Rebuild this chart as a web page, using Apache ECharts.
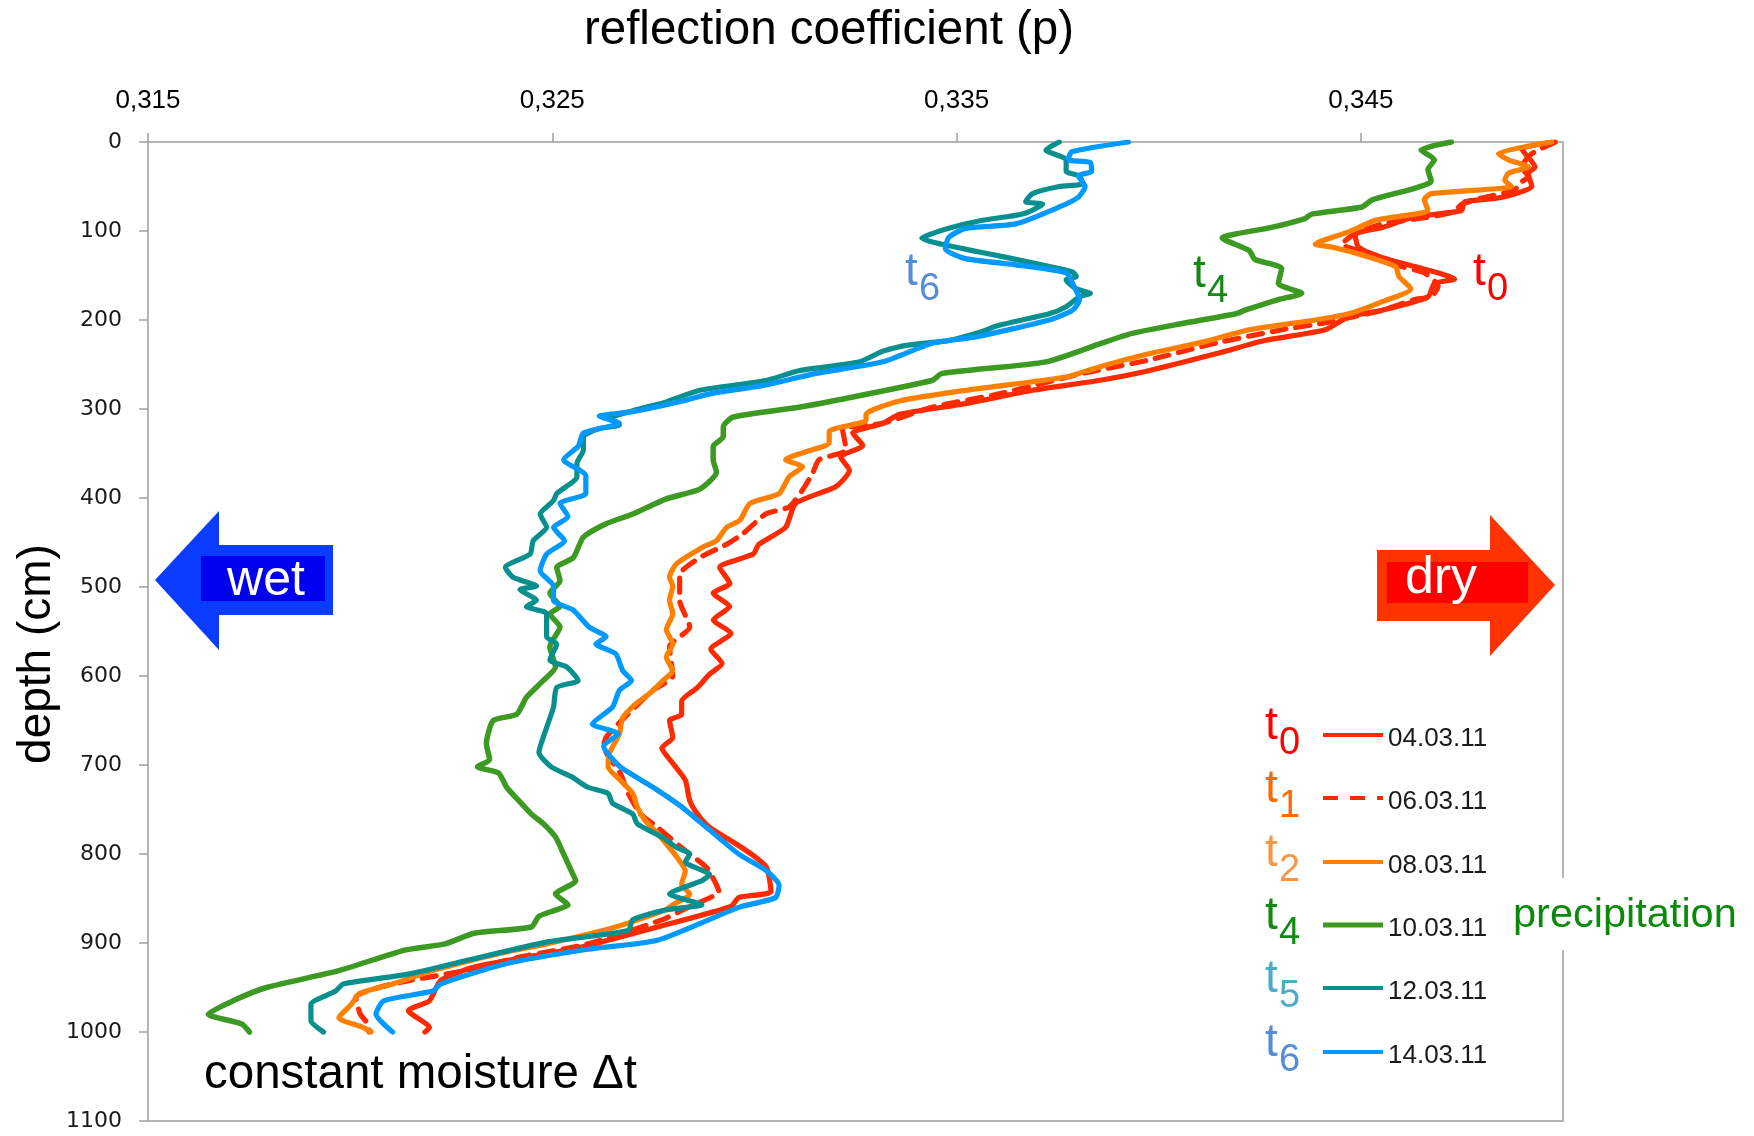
<!DOCTYPE html>
<html><head><meta charset="utf-8">
<script src="https://cdn.jsdelivr.net/npm/echarts@6/dist/echarts.min.js"></script>
<style>html,body{margin:0;padding:0;background:#fff}#c{width:1754px;height:1136px}</style>
</head><body><div id="c"></div><script>
// ---- data: [reflection coefficient, depth (cm)] ----
const xTicks = [0.315, 0.325, 0.335, 0.345];
const depthTicks = [0,100,200,300,400,500,600,700,800,900,1000,1100];
const dates = ['04.03.11','06.03.11','08.03.11','10.03.11','12.03.11','14.03.11'];
const tNames = ['0','1','2','4','5','6'];

const t0 = [[0.34975,0],[0.34898,8],[0.34931,28],[0.34914,35],[0.34923,50],[0.34840,63],[0.34757,67],[0.34749,77],[0.34635,84],[0.34553,96],[0.34486,104],[0.34494,118],[0.34553,130],[0.34633,140],[0.34732,154],[0.34682,159],[0.34666,174],[0.34553,189],[0.34470,196],[0.34412,211],[0.34262,223],[0.34141,238],[0.33975,257],[0.33851,268],[0.33688,279],[0.33522,294],[0.33359,306],[0.33318,316],[0.33243,327],[0.33268,341],[0.33213,354],[0.33235,369],[0.33202,387],[0.33102,406],[0.33077,433],[0.33011,452],[0.32997,463],[0.32914,478],[0.32939,496],[0.32898,507],[0.32939,522],[0.32898,537],[0.32942,552],[0.32892,570],[0.32920,586],[0.32889,598],[0.32859,613],[0.32820,628],[0.32820,643],[0.32790,650],[0.32798,669],[0.32771,681],[0.32798,698],[0.32829,717],[0.32840,740],[0.32859,755],[0.32889,770],[0.32942,785],[0.32992,800],[0.33030,815],[0.33041,842],[0.32961,849],[0.32942,859],[0.32760,882],[0.32577,904],[0.32486,912],[0.32307,927],[0.32224,942],[0.32196,965],[0.32144,976],[0.32196,995],[0.32185,1000]];

const t1 = [[0.34981,0],[0.34923,13],[0.34898,28],[0.34914,39],[0.34890,47],[0.34881,54],[0.34798,63],[0.34749,70],[0.34732,78],[0.34674,84],[0.34553,92],[0.34486,103],[0.34453,115],[0.34503,123],[0.34602,140],[0.34657,147],[0.34691,162],[0.34674,174],[0.34633,177],[0.34553,189],[0.34412,203],[0.34304,211],[0.34141,226],[0.33975,245],[0.33812,260],[0.33605,283],[0.33439,298],[0.33318,316],[0.33218,323],[0.33227,346],[0.33160,357],[0.33144,372],[0.33119,391],[0.33086,410],[0.33028,418],[0.32972,440],[0.32931,452],[0.32865,467],[0.32815,486],[0.32815,499],[0.32815,515],[0.32840,545],[0.32790,567],[0.32798,600],[0.32749,616],[0.32682,645],[0.32633,669],[0.32627,679],[0.32668,709],[0.32688,732],[0.32718,755],[0.32760,770],[0.32820,793],[0.32881,815],[0.32901,830],[0.32912,842],[0.32840,859],[0.32771,874],[0.32588,901],[0.32417,916],[0.32285,931],[0.32105,946],[0.32014,961],[0.32025,980],[0.32044,991],[0.32047,1000]];

const t2 = [[0.34972,0],[0.34840,13],[0.34865,20],[0.34914,28],[0.34865,35],[0.34856,43],[0.34873,50],[0.34674,58],[0.34657,65],[0.34666,77],[0.34633,81],[0.34536,88],[0.34470,101],[0.34387,115],[0.34428,118],[0.34511,128],[0.34586,140],[0.34594,151],[0.34624,165],[0.34544,181],[0.34470,193],[0.34387,200],[0.34224,211],[0.34116,224],[0.33975,238],[0.33851,253],[0.33771,264],[0.33522,279],[0.33359,291],[0.33276,306],[0.33276,313],[0.33185,325],[0.33185,338],[0.33127,348],[0.33077,357],[0.33119,365],[0.33086,376],[0.33061,395],[0.32989,406],[0.32964,425],[0.32931,433],[0.32906,448],[0.32873,455],[0.32807,474],[0.32790,489],[0.32798,499],[0.32790,515],[0.32798,530],[0.32782,548],[0.32798,564],[0.32782,579],[0.32798,594],[0.32774,605],[0.32740,620],[0.32707,631],[0.32674,647],[0.32666,665],[0.32641,687],[0.32638,702],[0.32668,717],[0.32699,732],[0.32710,747],[0.32729,762],[0.32760,777],[0.32790,793],[0.32809,804],[0.32829,819],[0.32820,834],[0.32840,845],[0.32798,857],[0.32779,863],[0.32657,882],[0.32486,901],[0.32367,912],[0.32204,931],[0.32105,946],[0.32022,957],[0.32003,969],[0.31972,984],[0.32033,995],[0.32052,1000]];

const t4 = [[0.34724,0],[0.34649,9],[0.34682,20],[0.34666,31],[0.34674,44],[0.34633,52],[0.34528,65],[0.34503,73],[0.34378,81],[0.34362,86],[0.34279,96],[0.34157,108],[0.34224,122],[0.34238,132],[0.34304,142],[0.34296,159],[0.34354,170],[0.34296,177],[0.34213,189],[0.34191,193],[0.34058,204],[0.33934,215],[0.33859,226],[0.33721,247],[0.33464,260],[0.33439,268],[0.33193,291],[0.33110,298],[0.32948,309],[0.32923,320],[0.32923,331],[0.32898,342],[0.32898,357],[0.32906,371],[0.32865,390],[0.32782,401],[0.32699,418],[0.32633,429],[0.32577,444],[0.32552,467],[0.32511,478],[0.32519,493],[0.32494,507],[0.32519,522],[0.32494,530],[0.32519,545],[0.32494,567],[0.32508,590],[0.32478,605],[0.32436,624],[0.32412,643],[0.32354,650],[0.32337,676],[0.32345,694],[0.32315,702],[0.32367,709],[0.32387,725],[0.32417,740],[0.32448,755],[0.32478,766],[0.32508,781],[0.32528,800],[0.32547,819],[0.32558,830],[0.32508,845],[0.32539,857],[0.32508,863],[0.32467,870],[0.32448,882],[0.32307,889],[0.32235,901],[0.32135,908],[0.31972,931],[0.31793,950],[0.31710,965],[0.31649,980],[0.31732,991],[0.31751,1000]];

const t5 = [[0.33754,0],[0.33721,9],[0.33771,20],[0.33771,33],[0.33804,38],[0.33812,47],[0.33754,50],[0.33688,58],[0.33671,67],[0.33713,70],[0.33663,81],[0.33564,88],[0.33481,97],[0.33414,108],[0.33464,115],[0.33539,122],[0.33605,128],[0.33787,146],[0.33796,151],[0.33771,155],[0.33796,165],[0.33831,170],[0.33804,174],[0.33771,185],[0.33729,193],[0.33605,206],[0.33555,214],[0.33481,223],[0.33384,228],[0.33318,235],[0.33260,247],[0.33110,257],[0.33028,268],[0.32865,279],[0.32782,292],[0.32699,302],[0.32641,311],[0.32666,318],[0.32616,322],[0.32577,331],[0.32577,346],[0.32561,361],[0.32561,376],[0.32511,395],[0.32503,403],[0.32470,418],[0.32486,433],[0.32453,448],[0.32445,463],[0.32384,478],[0.32403,489],[0.32461,499],[0.32420,503],[0.32461,515],[0.32436,522],[0.32486,530],[0.32486,556],[0.32511,564],[0.32494,582],[0.32536,590],[0.32564,605],[0.32511,613],[0.32503,635],[0.32486,658],[0.32467,686],[0.32497,702],[0.32547,713],[0.32588,725],[0.32638,732],[0.32649,743],[0.32699,755],[0.32710,766],[0.32771,781],[0.32809,793],[0.32840,800],[0.32829,809],[0.32889,823],[0.32870,830],[0.32790,845],[0.32870,857],[0.32779,863],[0.32699,874],[0.32688,886],[0.32486,899],[0.32285,920],[0.32144,935],[0.31983,946],[0.31964,954],[0.31903,969],[0.31903,987],[0.31934,1000]];

const t6 = [[0.33925,0],[0.33785,11],[0.33776,20],[0.33831,23],[0.33834,33],[0.33801,38],[0.33818,50],[0.33801,62],[0.33754,73],[0.33646,92],[0.33522,97],[0.33481,107],[0.33472,120],[0.33522,131],[0.33646,138],[0.33771,147],[0.33787,159],[0.33804,177],[0.33787,189],[0.33729,200],[0.33547,219],[0.33439,226],[0.33318,247],[0.33152,260],[0.33028,273],[0.32889,283],[0.32823,291],[0.32699,303],[0.32616,308],[0.32666,316],[0.32577,327],[0.32564,342],[0.32528,357],[0.32583,375],[0.32583,395],[0.32519,406],[0.32539,421],[0.32503,433],[0.32530,448],[0.32486,463],[0.32470,482],[0.32503,499],[0.32503,515],[0.32552,526],[0.32591,545],[0.32633,556],[0.32608,564],[0.32657,575],[0.32674,594],[0.32696,605],[0.32666,616],[0.32649,635],[0.32599,654],[0.32663,665],[0.32627,679],[0.32668,702],[0.32749,725],[0.32820,747],[0.32881,770],[0.32961,800],[0.33030,819],[0.33061,835],[0.33052,849],[0.32961,860],[0.32760,897],[0.32588,907],[0.32387,923],[0.32224,946],[0.32204,954],[0.32083,965],[0.32064,980],[0.32105,1000]];

// ---- styling ----
const FONT = '"Liberation Sans", Arial, Helvetica, sans-serif';
const lineColors = ['#ff2a00','#ff2a00','#ff8000','#3c9a22','#0a8f8f','#0099ff'];
const labelColors = ['#ff0000','#ff6a00','#f79646','#128a12','#4bacc6','#558ed5'];
const seriesData = [t0,t1,t2,t4,t5,t6];

const series = seriesData.map((d,i)=>({
  name: dates[i], type:'line', data:d, showSymbol:false, smooth:0.2,
  clip:true, z: 2+i, animation:false,
  lineStyle:{color:lineColors[i], width: i===3?5.5:5.2, type: i===1?[14,10]:'solid', cap:'round', join:'round'}
}));

function txt(x,y,text,size,color,opts){
  opts = opts||{};
  return {type:'text', x:x, y:y, z:100, rotation: opts.rotation||0,
    style:{text:text, font:(opts.weight||'normal')+' '+size+'px '+(opts.family||FONT), fill:color,
      textAlign:opts.align||'left', align:opts.align||'left',
      textVerticalAlign:'middle', verticalAlign:'middle'}};
}
function tLabel(x, yT, digit, color){
  return [txt(x, yT, 't', 46, color), txt(x+14, yT+18, digit, 38, color)];
}

const graphics = [];
// title and axis name
graphics.push(txt(829, 31, 'reflection coefficient (p)', 47.5, '#000', {align:'center'}));
graphics.push(txt(37, 654, 'depth (cm)', 46, '#000', {align:'center', rotation:Math.PI/2}));
// arrows
graphics.push({type:'polygon', z:90, shape:{points:[[155,580],[219,511],[219,545],[333,545],[333,615],[219,615],[219,650]]}, style:{fill:'#0a3cff'}});
graphics.push({type:'rect', z:91, shape:{x:201,y:556,width:124,height:45}, style:{fill:'#0000ee'}});
graphics.push(txt(266, 581, 'wet', 50, '#fff', {align:'center'}));
graphics.push({type:'polygon', z:90, shape:{points:[[1555,585],[1490,515],[1490,550],[1377,550],[1377,621],[1490,621],[1490,656]]}, style:{fill:'#ff3300'}});
graphics.push({type:'rect', z:91, shape:{x:1387,y:562,width:141,height:41}, style:{fill:'#ff0000'}});
graphics.push(txt(1441, 579, 'dry', 52, '#fff', {align:'center'}));
// in-plot labels
graphics.push(...tLabel(905, 272, '6', labelColors[5]));
graphics.push(...tLabel(1193, 274, '4', labelColors[3]));
graphics.push(...tLabel(1473, 272, '0', labelColors[0]));
// bottom text
graphics.push(txt(204, 1075, 'constant moisture \u0394t', 47.5, '#000'));
// legend
const rows = [735, 798, 862, 925, 988, 1052];
rows.forEach((L,i)=>{
  graphics.push(...tLabel(1265, L-9, tNames[i], labelColors[i]));
  graphics.push({type:'line', z:100, shape:{x1:1323,y1:L,x2:1383,y2:L},
    style:{stroke:lineColors[i], lineWidth: i===3?5:4, lineDash: i===1?[15,12]:null}});
  graphics.push(txt(1388, L+4, dates[i], 26, '#1a1a1a'));
});
// precipitation note with white backing
graphics.push({type:'rect', z:95, shape:{x:1500,y:878,width:254,height:72}, style:{fill:'#fff'}});
graphics.push(txt(1513, 916, 'precipitation', 41.5, '#0a8a0a'));

const option = {
  backgroundColor:'#fff',
  animation:false,
  grid:{left:148, right:191, top:142, bottom:15, show:true, borderColor:'#b4b4b4', borderWidth:2, containLabel:false},
  xAxis:{type:'value', position:'top', min:0.315, max:0.35, interval:0.01,
    axisLine:{show:true, lineStyle:{color:'#b4b4b4', width:2}},
    axisTick:{show:true, inside:false, length:9, lineStyle:{color:'#a0a0a0', width:1.5}},
    splitLine:{show:false},
    axisLabel:{margin:28, showMaxLabel:false, color:'#000', fontSize:26, fontFamily:FONT,
      formatter:v=> (v>0.3495?'':v.toFixed(3).replace('.',','))}},
  yAxis:{type:'value', inverse:true, min:0, max:1100, interval:100,
    axisLine:{show:true, lineStyle:{color:'#b4b4b4', width:2}},
    axisTick:{show:true, inside:false, length:9, lineStyle:{color:'#a0a0a0', width:1.5}},
    splitLine:{show:false},
    axisLabel:{margin:26, color:'#1a1a1a', fontSize:22, fontFamily:'"DejaVu Sans", Verdana, sans-serif',
      formatter:v=>String(Math.round(v))}},
  series: series,
  graphic: {elements: graphics}
};
const chart = echarts.init(document.getElementById('c'), null, {renderer:'canvas'});
chart.setOption(option);
</script></body></html>
